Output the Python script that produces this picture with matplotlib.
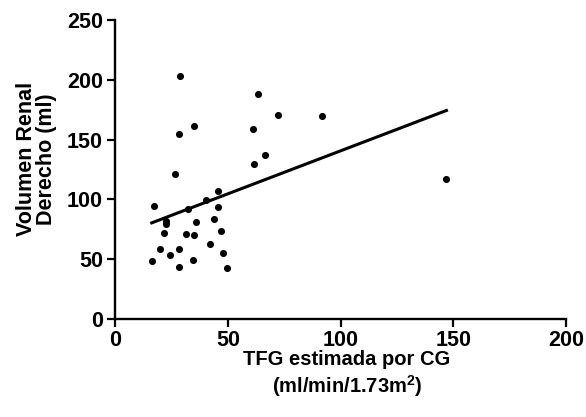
import numpy as np
import matplotlib
matplotlib.use("Agg")
import matplotlib.pyplot as plt

plt.rcParams['font.family'] = ['Liberation Sans', 'DejaVu Sans']
plt.rcParams['font.weight'] = 'bold'
plt.rcParams['mathtext.fontset'] = 'custom'
plt.rcParams['mathtext.rm'] = 'Liberation Sans:bold'
plt.rcParams['mathtext.bf'] = 'Liberation Sans:bold'

# TFG estimada (x) vs volumen renal derecho (y)
tfg = [28.8, 63.2, 72.2, 34.9, 28.0, 61.2, 66.4, 61.4, 26.5, 91.6, 146.9,
       45.3, 16.9, 40.2, 32.0, 45.3, 22.5, 22.5, 43.9, 35.7, 21.7, 31.4,
       35.0, 46.8, 42.1, 19.8, 28.3, 24.0, 47.6, 16.1, 34.5, 28.4, 49.7]
volumen = [202.9, 187.9, 170.8, 161.4, 154.7, 158.9, 137.1, 129.6, 121.0, 169.7, 116.8,
           107.0, 94.5, 99.2, 92.2, 93.4, 82.2, 79.4, 83.9, 81.4, 72.2, 71.1,
           70.0, 73.8, 63.0, 58.5, 58.3, 53.8, 55.4, 48.7, 49.6, 43.7, 42.6]

x_ticks = [0, 50, 100, 150, 200]
y_ticks = [0, 50, 100, 150, 200, 250]

x = np.array(tfg)
y = np.array(volumen)
slope, intercept = np.polyfit(x, y, 1)
xl = np.array([x.min(), x.max()])

fig = plt.figure(figsize=(5.86, 4.17), dpi=100)
ax = fig.add_axes([0.197, 0.235, 0.769, 0.717])

ax.scatter(x, y, s=26, color='black', zorder=3, linewidths=0)
ax.plot(xl, slope * xl + intercept, color='black', lw=2.2)

ax.set_xlim(0, 200)
ax.set_ylim(0, 250)
ax.set_xticks(x_ticks)
ax.set_yticks(y_ticks)
for s in ['top', 'right']:
    ax.spines[s].set_visible(False)
for s in ['left', 'bottom']:
    ax.spines[s].set_linewidth(1.7)
ax.tick_params(width=1.6, length=6, labelsize=15.5)
ax.tick_params(axis='x', pad=2)
ax.tick_params(axis='y', pad=3)
for lab in ax.get_xticklabels() + ax.get_yticklabels():
    lab.set_fontweight('bold')

ax.set_xlabel("TFG estimada por CG\n(ml/min/1.73m$^{2}$)", fontsize=14.5,
              fontweight='bold', linespacing=1.2)
ax.set_ylabel("Volumen Renal\nDerecho (ml)", fontsize=15.5,
              fontweight='bold', linespacing=0.95)
ax.xaxis.set_label_coords(0.514, -0.105)
ax.yaxis.set_label_coords(-0.13, 0.535)

fig.savefig("out.png", dpi=100)
